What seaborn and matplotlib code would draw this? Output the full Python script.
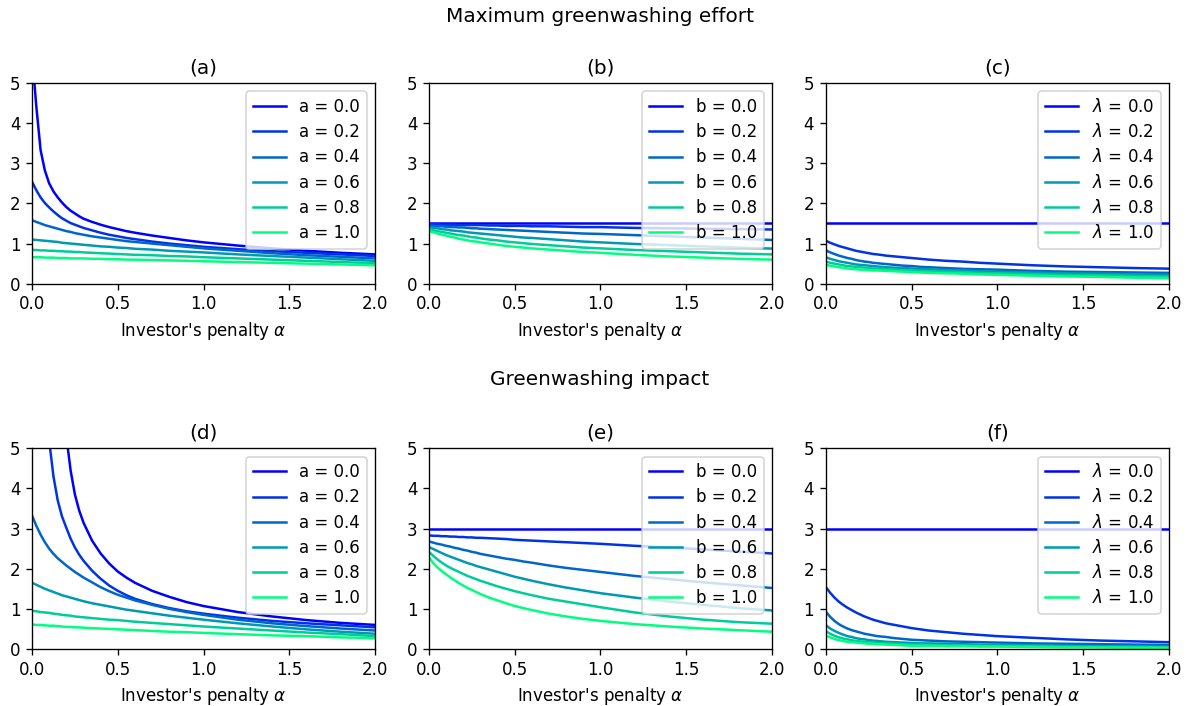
import numpy as np
import pandas as pd
import matplotlib
matplotlib.use("Agg")
import matplotlib.pyplot as plt
import seaborn as sns

nan = np.nan

# investor's penalty grid
alpha = [0, 0.025, 0.05, 0.075, 0.1, 0.125, 0.15, 0.175, 0.2, 0.225, 0.25, 0.275, 0.3,
         0.35, 0.4, 0.45, 0.5, 0.55, 0.6,
         0.7, 0.8, 0.9, 1.0,
         1.2, 1.4, 1.6, 1.8, 2.0]
params = [0.0, 0.2, 0.4, 0.6, 0.8, 1.0]

# (a) max greenwashing effort, varying a
effort_a = [
    [5.74, 4.42, 3.33, 2.82, 2.5, 2.3, 2.15, 2.02, 1.91, 1.82, 1.75, 1.68, 1.62, 1.54, 1.47, 1.41, 1.36, 1.31, 1.27, 1.2, 1.14, 1.08, 1.03, 0.95, 0.88, 0.82, 0.77, 0.73],
    [2.54, 2.33, 2.15, 2.01, 1.9, 1.8, 1.71, 1.63, 1.57, 1.51, 1.47, 1.43, 1.39, 1.33, 1.27, 1.22, 1.18, 1.14, 1.11, 1.05, 1.0, 0.96, 0.92, 0.86, 0.81, 0.77, 0.73, 0.69],
    [1.58, 1.54, 1.5, 1.46, 1.43, 1.4, 1.37, 1.34, 1.31, 1.29, 1.26, 1.24, 1.22, 1.18, 1.15, 1.12, 1.09, 1.06, 1.04, 1.0, 0.96, 0.92, 0.88, 0.82, 0.76, 0.71, 0.67, 0.63],
    [1.1, 1.09, 1.08, 1.07, 1.06, 1.05, 1.04, 1.02, 1.01, 1.0, 0.99, 0.98, 0.97, 0.95, 0.93, 0.92, 0.9, 0.89, 0.87, 0.85, 0.82, 0.8, 0.78, 0.73, 0.69, 0.65, 0.61, 0.57],
    [0.84, 0.84, 0.83, 0.83, 0.82, 0.82, 0.81, 0.81, 0.8, 0.8, 0.79, 0.79, 0.78, 0.77, 0.76, 0.75, 0.74, 0.73, 0.72, 0.71, 0.69, 0.68, 0.66, 0.63, 0.6, 0.57, 0.54, 0.51],
    [0.66, 0.66, 0.66, 0.65, 0.65, 0.65, 0.64, 0.64, 0.64, 0.63, 0.63, 0.63, 0.63, 0.62, 0.62, 0.61, 0.61, 0.6, 0.6, 0.59, 0.58, 0.57, 0.56, 0.54, 0.52, 0.5, 0.48, 0.46],
]

# (b) max greenwashing effort, varying b
effort_b = [
    [1.5] * 28,
    [1.48, 1.48, 1.48, 1.47, 1.47, 1.47, 1.47, 1.46, 1.46, 1.46, 1.46, 1.46, 1.46, 1.45, 1.45, 1.44, 1.44, 1.44, 1.43, 1.43, 1.42, 1.41, 1.41, 1.39, 1.38, 1.37, 1.36, 1.35],
    [1.45, 1.44, 1.43, 1.43, 1.42, 1.41, 1.41, 1.4, 1.4, 1.39, 1.38, 1.38, 1.37, 1.36, 1.35, 1.34, 1.33, 1.32, 1.31, 1.29, 1.27, 1.25, 1.24, 1.21, 1.18, 1.15, 1.12, 1.09],
    [1.41, 1.39, 1.38, 1.36, 1.35, 1.33, 1.32, 1.31, 1.3, 1.28, 1.27, 1.26, 1.25, 1.23, 1.21, 1.19, 1.17, 1.15, 1.14, 1.11, 1.08, 1.05, 1.03, 0.99, 0.96, 0.93, 0.9, 0.875],
    [1.36, 1.33, 1.31, 1.29, 1.27, 1.25, 1.23, 1.21, 1.2, 1.18, 1.16, 1.15, 1.13, 1.1, 1.08, 1.05, 1.03, 1.01, 0.99, 0.96, 0.93, 0.9, 0.88, 0.84, 0.81, 0.78, 0.75, 0.73],
    [1.31, 1.28, 1.25, 1.22, 1.2, 1.17, 1.15, 1.12, 1.1, 1.08, 1.06, 1.05, 1.03, 1.0, 0.97, 0.94, 0.92, 0.9, 0.88, 0.85, 0.82, 0.79, 0.77, 0.72, 0.68, 0.65, 0.62, 0.6],
]

# (c) max greenwashing effort, varying lambda
effort_lam = [
    [1.5] * 28,
    [1.07, 1.02, 0.98, 0.94, 0.91, 0.88, 0.85, 0.82, 0.8, 0.78, 0.76, 0.74, 0.73, 0.7, 0.68, 0.66, 0.64, 0.62, 0.6, 0.57, 0.55, 0.52, 0.5, 0.46, 0.43, 0.41, 0.39, 0.375],
    [0.83, 0.78, 0.74, 0.7, 0.67, 0.64, 0.62, 0.59, 0.57, 0.55, 0.54, 0.52, 0.51, 0.49, 0.47, 0.45, 0.44, 0.42, 0.41, 0.39, 0.37, 0.36, 0.35, 0.32, 0.3, 0.29, 0.28, 0.27],
    [0.66, 0.62, 0.59, 0.56, 0.54, 0.52, 0.5, 0.48, 0.47, 0.46, 0.45, 0.44, 0.43, 0.41, 0.4, 0.39, 0.38, 0.37, 0.36, 0.34, 0.33, 0.31, 0.3, 0.28, 0.26, 0.25, 0.23, 0.22],
    [0.55, 0.52, 0.5, 0.48, 0.46, 0.44, 0.43, 0.42, 0.41, 0.4, 0.39, 0.38, 0.38, 0.36, 0.35, 0.34, 0.33, 0.32, 0.31, 0.3, 0.29, 0.27, 0.26, 0.24, 0.22, 0.21, 0.19, 0.18],
    [0.47, 0.45, 0.43, 0.41, 0.4, 0.38, 0.37, 0.36, 0.35, 0.35, 0.34, 0.33, 0.33, 0.32, 0.31, 0.3, 0.29, 0.28, 0.27, 0.26, 0.25, 0.23, 0.22, 0.2, 0.18, 0.17, 0.15, 0.14],
]

# (d) greenwashing impact, varying a (a = 0.0 and 0.2 leave the top of the axes)
impact_a = [
    [nan, nan, nan, nan, nan, nan, nan, nan, 5.3, 4.45, 3.85, 3.45, 3.15, 2.7, 2.38, 2.13, 1.93, 1.78, 1.65, 1.45, 1.3, 1.17, 1.07, 0.92, 0.81, 0.72, 0.65, 0.6],
    [nan, nan, nan, nan, 5.2, 4.3, 3.7, 3.3, 3.02, 2.75, 2.53, 2.35, 2.2, 1.95, 1.75, 1.58, 1.45, 1.34, 1.25, 1.12, 1.02, 0.94, 0.88, 0.78, 0.7, 0.64, 0.59, 0.54],
    [3.33, 3.07, 2.85, 2.66, 2.5, 2.37, 2.26, 2.17, 2.08, 2.0, 1.92, 1.85, 1.78, 1.66, 1.54, 1.44, 1.35, 1.28, 1.21, 1.1, 1.0, 0.92, 0.85, 0.73, 0.64, 0.57, 0.51, 0.46],
    [1.65, 1.6, 1.55, 1.5, 1.46, 1.42, 1.38, 1.34, 1.31, 1.28, 1.25, 1.22, 1.19, 1.14, 1.1, 1.06, 1.02, 0.98, 0.95, 0.89, 0.83, 0.78, 0.73, 0.64, 0.56, 0.49, 0.43, 0.38],
    [0.95, 0.94, 0.92, 0.91, 0.9, 0.88, 0.87, 0.85, 0.84, 0.83, 0.81, 0.8, 0.79, 0.77, 0.75, 0.73, 0.72, 0.7, 0.68, 0.65, 0.62, 0.59, 0.56, 0.51, 0.46, 0.41, 0.37, 0.32],
    [0.61, 0.6, 0.6, 0.59, 0.58, 0.58, 0.57, 0.56, 0.55, 0.55, 0.54, 0.54, 0.53, 0.52, 0.51, 0.5, 0.49, 0.48, 0.47, 0.45, 0.43, 0.42, 0.4, 0.37, 0.34, 0.32, 0.29, 0.27],
]

# (e) greenwashing impact, varying b
impact_b = [
    [3.0] * 28,
    [2.83, 2.82, 2.82, 2.81, 2.81, 2.8, 2.8, 2.79, 2.79, 2.78, 2.78, 2.77, 2.77, 2.76, 2.75, 2.74, 2.72, 2.71, 2.7, 2.68, 2.66, 2.64, 2.62, 2.57, 2.53, 2.48, 2.43, 2.38],
    [2.68, 2.65, 2.62, 2.6, 2.57, 2.55, 2.52, 2.5, 2.47, 2.45, 2.42, 2.4, 2.37, 2.33, 2.29, 2.25, 2.22, 2.18, 2.15, 2.08, 2.02, 1.97, 1.92, 1.82, 1.74, 1.66, 1.59, 1.52],
    [2.54, 2.49, 2.44, 2.39, 2.34, 2.3, 2.26, 2.22, 2.18, 2.14, 2.11, 2.07, 2.04, 1.98, 1.92, 1.86, 1.8, 1.75, 1.7, 1.61, 1.53, 1.46, 1.39, 1.28, 1.18, 1.1, 1.02, 0.96],
    [2.42, 2.32, 2.23, 2.15, 2.08, 2.02, 1.97, 1.92, 1.87, 1.82, 1.78, 1.74, 1.7, 1.63, 1.56, 1.5, 1.44, 1.39, 1.34, 1.25, 1.18, 1.11, 1.04, 0.91, 0.81, 0.73, 0.67, 0.63],
    [2.28, 2.14, 2.03, 1.94, 1.86, 1.78, 1.71, 1.64, 1.58, 1.52, 1.47, 1.42, 1.37, 1.28, 1.21, 1.14, 1.07, 1.02, 0.97, 0.88, 0.81, 0.75, 0.7, 0.62, 0.56, 0.51, 0.47, 0.43],
]

# (f) greenwashing impact, varying lambda
impact_lam = [
    [3.0] * 28,
    [1.54, 1.4, 1.28, 1.18, 1.1, 1.03, 0.97, 0.91, 0.86, 0.81, 0.77, 0.73, 0.7, 0.64, 0.6, 0.56, 0.52, 0.49, 0.46, 0.42, 0.38, 0.35, 0.32, 0.28, 0.24, 0.21, 0.19, 0.17],
    [0.93, 0.8, 0.7, 0.62, 0.56, 0.51, 0.47, 0.44, 0.41, 0.38, 0.36, 0.34, 0.32, 0.3, 0.27, 0.25, 0.23, 0.22, 0.21, 0.19, 0.18, 0.17, 0.16, 0.14, 0.13, 0.12, 0.11, 0.1],
    [0.59, 0.51, 0.45, 0.4, 0.36, 0.32, 0.3, 0.27, 0.25, 0.24, 0.22, 0.21, 0.2, 0.18, 0.17, 0.16, 0.15, 0.14, 0.14, 0.13, 0.12, 0.11, 0.11, 0.09, 0.08, 0.07, 0.07, 0.06],
    [0.44, 0.38, 0.33, 0.29, 0.26, 0.24, 0.22, 0.2, 0.19, 0.18, 0.17, 0.16, 0.15, 0.14, 0.13, 0.12, 0.11, 0.11, 0.1, 0.09, 0.09, 0.08, 0.08, 0.07, 0.06, 0.05, 0.05, 0.04],
    [0.33, 0.29, 0.25, 0.22, 0.2, 0.18, 0.17, 0.16, 0.15, 0.14, 0.13, 0.13, 0.12, 0.11, 0.1, 0.09, 0.08, 0.08, 0.08, 0.07, 0.07, 0.06, 0.06, 0.05, 0.04, 0.04, 0.03, 0.03],
]

panels = [
    ("(a)", "a", effort_a),
    ("(b)", "b", effort_b),
    ("(c)", r"$\lambda$", effort_lam),
    ("(d)", "a", impact_a),
    ("(e)", "b", impact_b),
    ("(f)", r"$\lambda$", impact_lam),
]

colors = [plt.cm.winter(v) for v in np.linspace(0, 1, len(params))]

fig, axes = plt.subplots(2, 3, figsize=(1190 / 120, 706 / 120), dpi=120)
fig.subplots_adjust(left=32 / 1190, right=1169 / 1190, top=1 - 83 / 706,
                    bottom=1 - 649 / 706, wspace=0.157, hspace=0.82)

for ax, (title, sym, curves) in zip(axes.flat, panels):
    rows = []
    for p, ys in zip(params, curves):
        assert len(ys) == len(alpha), (title, p, len(ys))
        for x, y in zip(alpha, ys):
            rows.append({"alpha": x, "value": y, "label": f"{sym} = {p:.1f}"})
    df = pd.DataFrame(rows).dropna()
    order = [f"{sym} = {p:.1f}" for p in params]
    sns.lineplot(data=df, x="alpha", y="value", hue="label", hue_order=order,
                 palette=colors, estimator=None, lw=1.5, ax=ax)
    sns.move_legend(ax, "upper right", title=None, fontsize=10, labelspacing=0.43)
    ax.set_xlim(0, 2)
    ax.set_ylim(0, 5)
    ax.set_xticks([0, 0.5, 1.0, 1.5, 2.0])
    ax.set_yticks([0, 1, 2, 3, 4, 5])
    ax.set_title(title, fontsize=12)
    ax.set_xlabel(r"Investor's penalty $\alpha$")
    ax.set_ylabel("")

fig.text(0.504, 1 - 17 / 706, "Maximum greenwashing effort", ha="center", va="center", fontsize=12)
fig.text(0.504, 1 - 380 / 706, "Greenwashing impact", ha="center", va="center", fontsize=12)

fig.savefig("out.png", dpi=120)
